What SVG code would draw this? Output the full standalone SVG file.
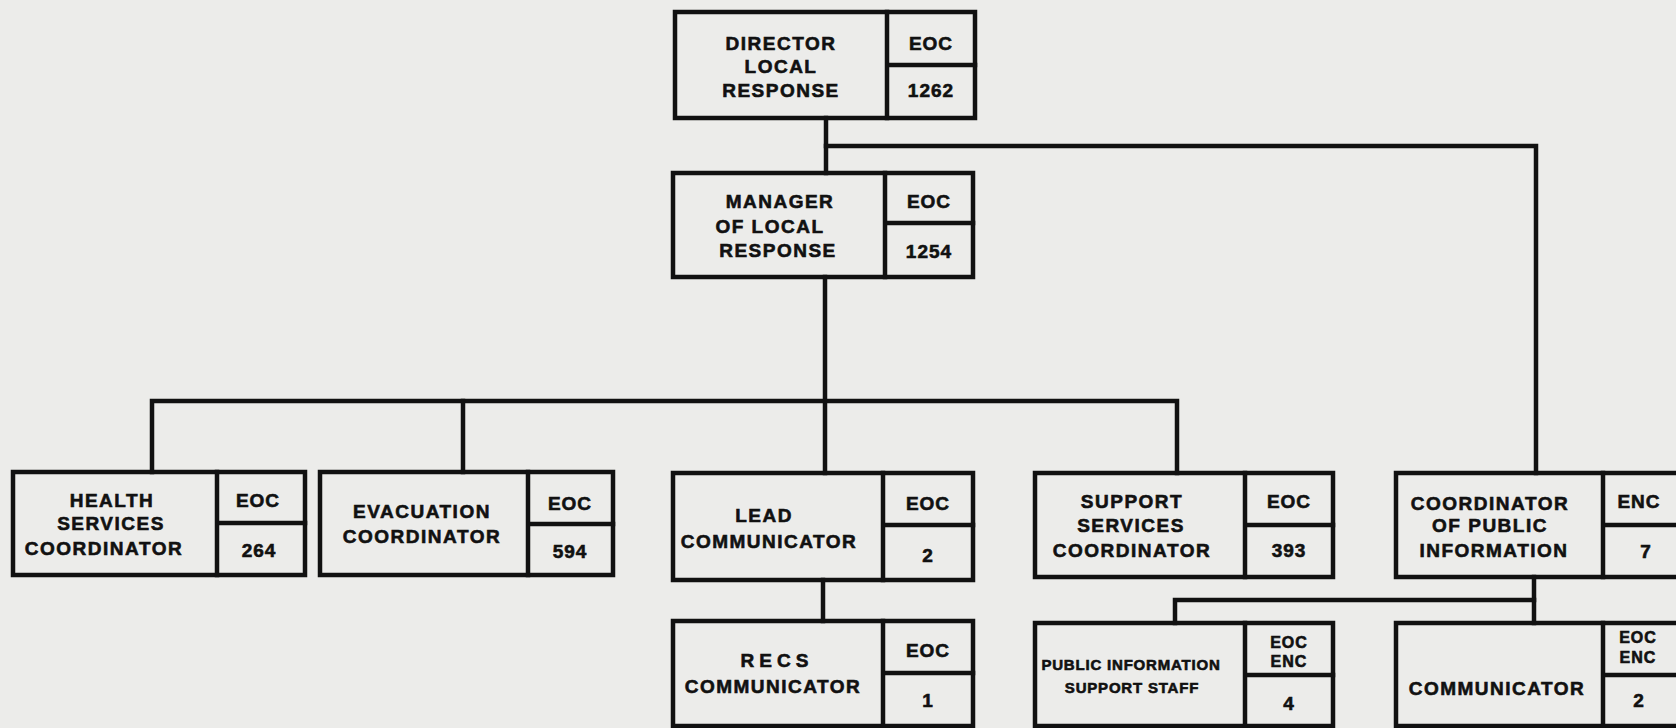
<svg xmlns="http://www.w3.org/2000/svg" width="1676" height="728" viewBox="0 0 1676 728">
<style>
.bx{fill:none;stroke:#111;stroke-width:4.5}
.ln{fill:none;stroke:#111;stroke-width:4.5;stroke-linecap:square}
text{font-family:"Liberation Sans",Arial,sans-serif;font-weight:bold;fill:#111;stroke:#111;stroke-width:0.6;text-anchor:middle}
.t{font-size:19px;letter-spacing:1.5px}
.n{font-size:19px;letter-spacing:1px}
.s{font-size:15px;letter-spacing:0.8px}
.c{font-size:16px;letter-spacing:1px}
</style>
<rect x="0" y="0" width="1676" height="728" fill="#ececea"/>
<g id="connectors">
<path class="ln" d="M826,118 V173"/>
<path class="ln" d="M826,146 H1536 V473"/>
<path class="ln" d="M825,277 V473"/>
<path class="ln" d="M152,472 V401 H1177 V473"/>
<path class="ln" d="M463,401 V472"/>
<path class="ln" d="M823,580 V621"/>
<path class="ln" d="M1534,577 V623"/>
<path class="ln" d="M1175,623 V600 H1534"/>
</g>
<g id="director">
<rect class="bx" x="675" y="12" width="300" height="106"/>
<path class="ln" d="M887,12 V118 M887,65 H975"/>
<text class="t" x="781" y="50">DIRECTOR</text>
<text class="t" x="781" y="73">LOCAL</text>
<text class="t" x="781" y="97">RESPONSE</text>
<text class="n" x="931" y="50">EOC</text>
<text class="n" x="931" y="97">1262</text>
</g>
<g id="manager">
<rect class="bx" x="673" y="173" width="300" height="104"/>
<path class="ln" d="M885,173 V277 M885,223 H973"/>
<text class="t" x="780" y="208">MANAGER</text>
<text class="t" x="770" y="233">OF LOCAL</text>
<text class="t" x="778" y="257">RESPONSE</text>
<text class="n" x="929" y="208">EOC</text>
<text class="n" x="929" y="258">1254</text>
</g>
<g id="health">
<rect class="bx" x="13" y="472" width="292" height="103"/>
<path class="ln" d="M217,472 V575 M217,523 H305"/>
<text class="t" x="112" y="507">HEALTH</text>
<text class="t" x="111" y="530">SERVICES</text>
<text class="t" x="104" y="555">COORDINATOR</text>
<text class="n" x="258" y="507">EOC</text>
<text class="n" x="259" y="557">264</text>
</g>
<g id="evacuation">
<rect class="bx" x="320" y="472" width="293" height="103"/>
<path class="ln" d="M528,472 V575 M528,524 H613"/>
<text class="t" x="422" y="518">EVACUATION</text>
<text class="t" x="422" y="543">COORDINATOR</text>
<text class="n" x="570" y="510">EOC</text>
<text class="n" x="570" y="558">594</text>
</g>
<g id="lead">
<rect class="bx" x="673" y="473" width="300" height="107"/>
<path class="ln" d="M883,473 V580 M883,525 H973"/>
<text class="t" x="764" y="522">LEAD</text>
<text class="t" x="769" y="548">COMMUNICATOR</text>
<text class="n" x="928" y="510">EOC</text>
<text class="n" x="928" y="562">2</text>
</g>
<g id="support">
<rect class="bx" x="1035" y="473" width="298" height="104"/>
<path class="ln" d="M1245,473 V577 M1245,525 H1333"/>
<text class="t" x="1132" y="508">SUPPORT</text>
<text class="t" x="1131" y="532">SERVICES</text>
<text class="t" x="1132" y="557">COORDINATOR</text>
<text class="n" x="1289" y="508">EOC</text>
<text class="n" x="1289" y="557">393</text>
</g>
<g id="public-info-coordinator">
<rect class="bx" x="1396" y="473" width="284" height="104"/>
<path class="ln" d="M1603,473 V577 M1603,525 H1680"/>
<text class="t" x="1490" y="510">COORDINATOR</text>
<text class="t" x="1490" y="532">OF PUBLIC</text>
<text class="t" x="1494" y="557">INFORMATION</text>
<text class="n" x="1639" y="508">ENC</text>
<text class="n" x="1646" y="558">7</text>
</g>
<g id="recs">
<rect class="bx" x="673" y="621" width="300" height="105"/>
<path class="ln" d="M883,621 V726 M883,673 H973"/>
<text class="t" x="777" y="667" style="letter-spacing:5px">RECS</text>
<text class="t" x="773" y="693">COMMUNICATOR</text>
<text class="n" x="928" y="657">EOC</text>
<text class="n" x="928" y="707">1</text>
</g>
<g id="pi-support-staff">
<rect class="bx" x="1035" y="623" width="298" height="103"/>
<path class="ln" d="M1245,623 V726 M1245,675 H1333"/>
<text class="s" x="1131" y="670">PUBLIC INFORMATION</text>
<text class="s" x="1132" y="693">SUPPORT STAFF</text>
<text class="c" x="1289" y="648">EOC</text>
<text class="c" x="1289" y="667">ENC</text>
<text class="n" x="1289" y="710">4</text>
</g>
<g id="communicator">
<rect class="bx" x="1396" y="623" width="284" height="103"/>
<path class="ln" d="M1603,623 V726 M1603,675 H1680"/>
<text class="t" x="1497" y="695">COMMUNICATOR</text>
<text class="c" x="1638" y="643">EOC</text>
<text class="c" x="1638" y="663">ENC</text>
<text class="n" x="1639" y="707">2</text>
</g>
</svg>
